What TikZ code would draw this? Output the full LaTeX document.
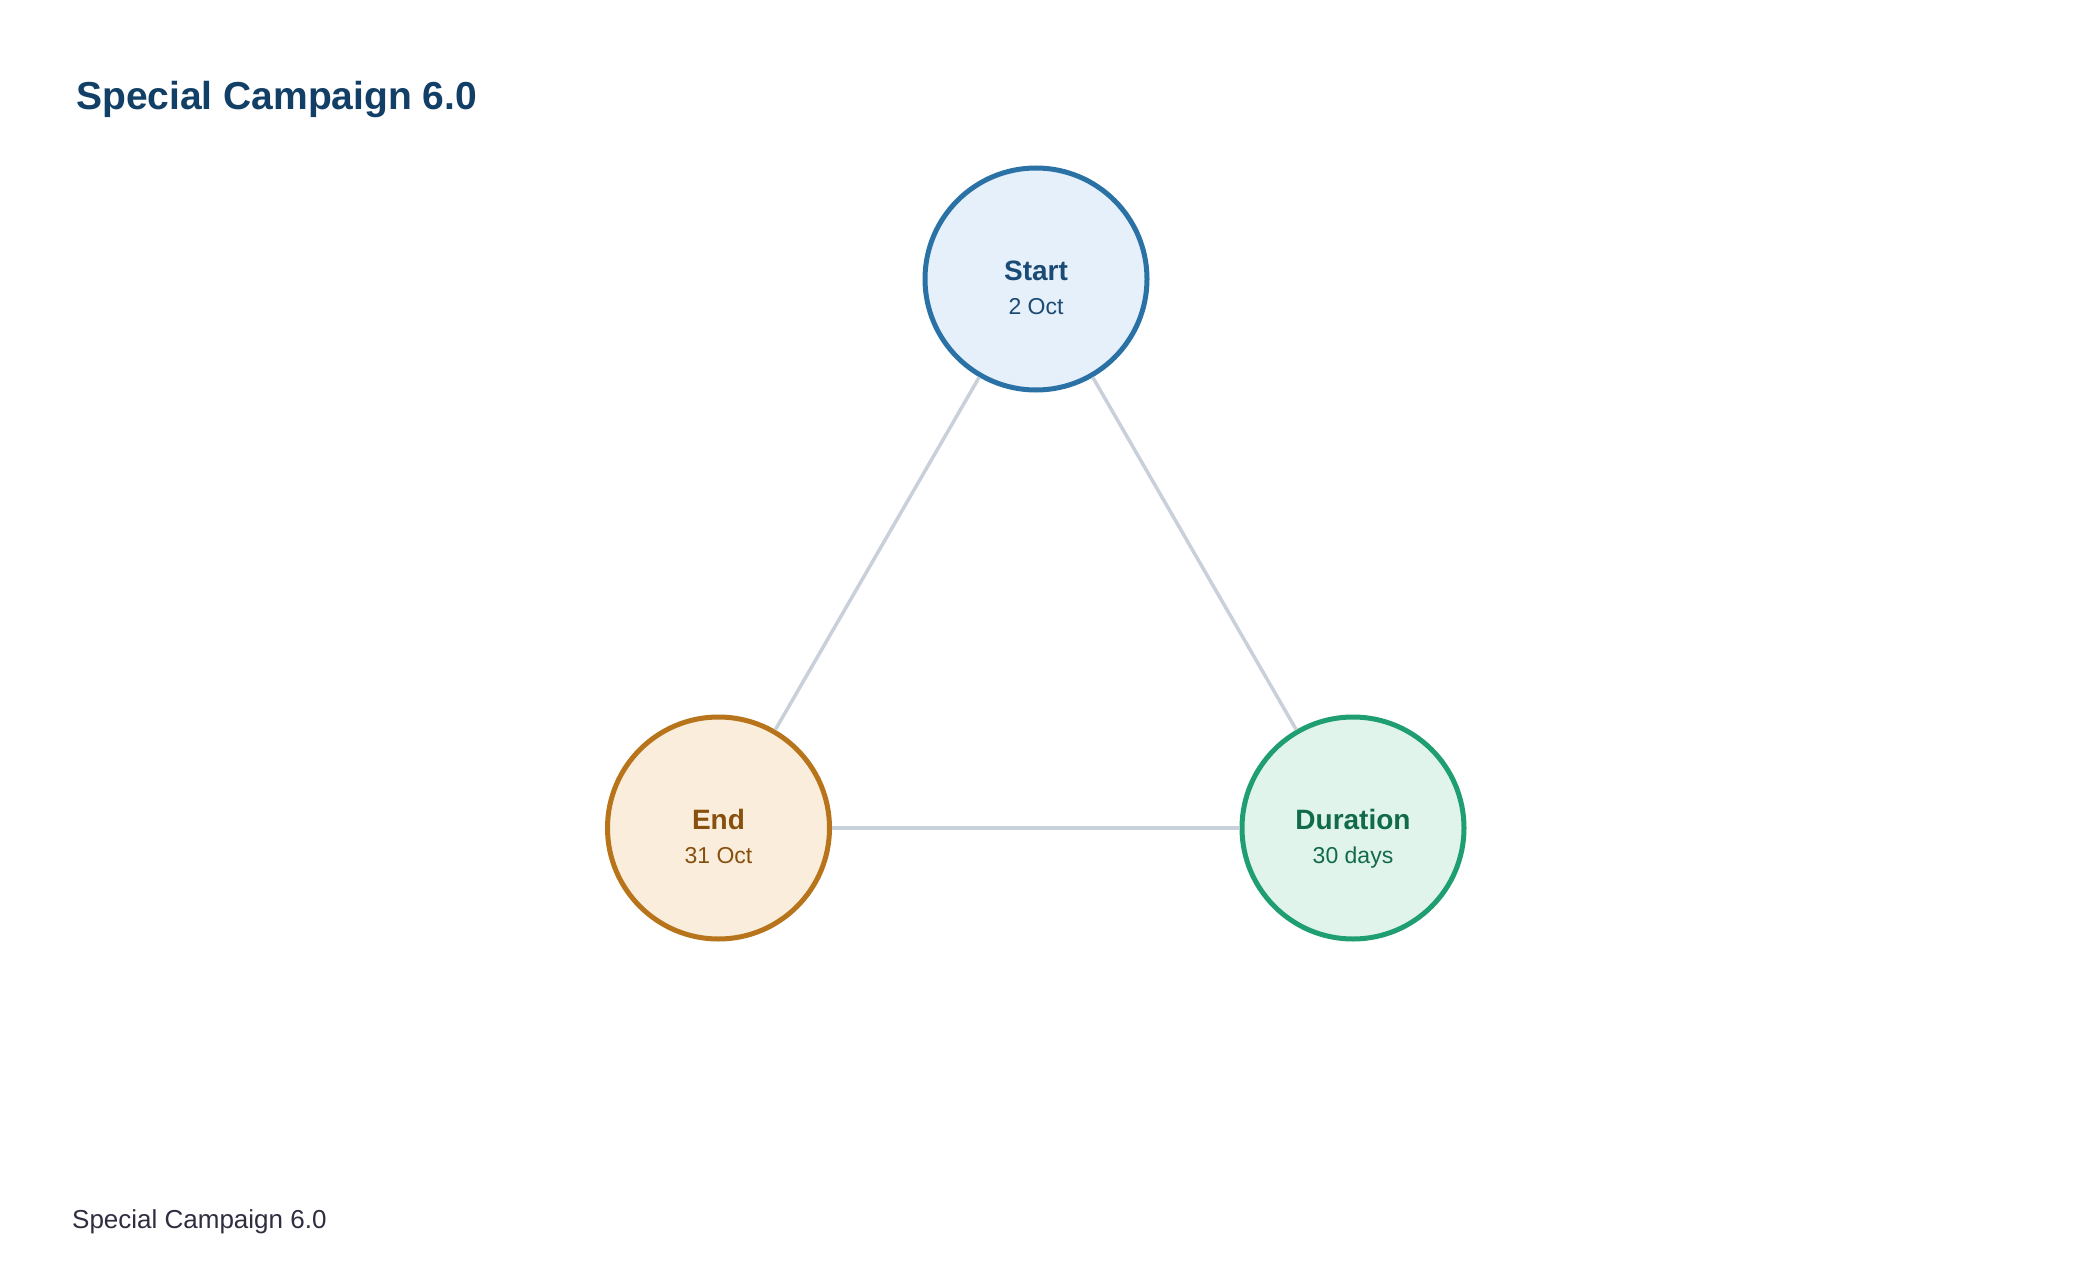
\documentclass[tikz,border=0pt]{standalone}
\usepackage{fontspec}
\setmainfont{Liberation Sans}
\definecolor{titlecol}{HTML}{123F66}
\definecolor{footcol}{HTML}{2E2E40}
\definecolor{linecol}{HTML}{C8D0DA}
\definecolor{startstroke}{HTML}{2A72A6}
\definecolor{startfill}{HTML}{E6F0FA}
\definecolor{starttext}{HTML}{1B4A74}
\definecolor{endstroke}{HTML}{B8741A}
\definecolor{endfill}{HTML}{FAEDDB}
\definecolor{endtext}{HTML}{87500F}
\definecolor{durstroke}{HTML}{1F9E72}
\definecolor{durfill}{HTML}{E1F4EC}
\definecolor{durtext}{HTML}{116B4B}
\tikzset{
  circ/.style={circle, minimum size=222pt, inner sep=0pt, line width=5pt},
  conn/.style={draw=linecol, line width=3.5pt},
  headtxt/.style={anchor=base, inner sep=0pt, font=\fontsize{28}{33}\selectfont\bfseries},
  subtxt/.style={anchor=base, inner sep=0pt, font=\fontsize{23}{28}\selectfont},
}
\begin{document}
\begin{tikzpicture}[x=1pt,y=-1pt]
\useasboundingbox[fill=white] (0,0) rectangle (2080,1284);
\node[anchor=base west, inner sep=0pt, text=titlecol, font=\fontsize{39}{47}\selectfont\bfseries] (title) at (76,110) {Special Campaign 6.0};
\node[anchor=base west, inner sep=0pt, text=footcol, font=\fontsize{26}{31}\selectfont] (footer) at (72,1228) {Special Campaign 6.0};

\node[circ, draw=startstroke, fill=startfill] (start) at (1036,279) {};
\node[circ, draw=endstroke, fill=endfill] (end) at (718.5,828) {};
\node[circ, draw=durstroke, fill=durfill] (dur) at (1353,828) {};

\draw[conn] (start) -- (end);
\draw[conn] (start) -- (dur);
\draw[conn] (end) -- (dur);

\node[headtxt, text=starttext] (startH) at (1036,280) {Start};
\node[subtxt, text=starttext] (startS) at (1036,314) {2 Oct};
\node[headtxt, text=endtext] (endH) at (718.5,829) {End};
\node[subtxt, text=endtext] (endS) at (718.5,863) {31 Oct};
\node[headtxt, text=durtext] (durH) at (1353,829) {Duration};
\node[subtxt, text=durtext] (durS) at (1353,863) {30 days};
\end{tikzpicture}
\end{document}
